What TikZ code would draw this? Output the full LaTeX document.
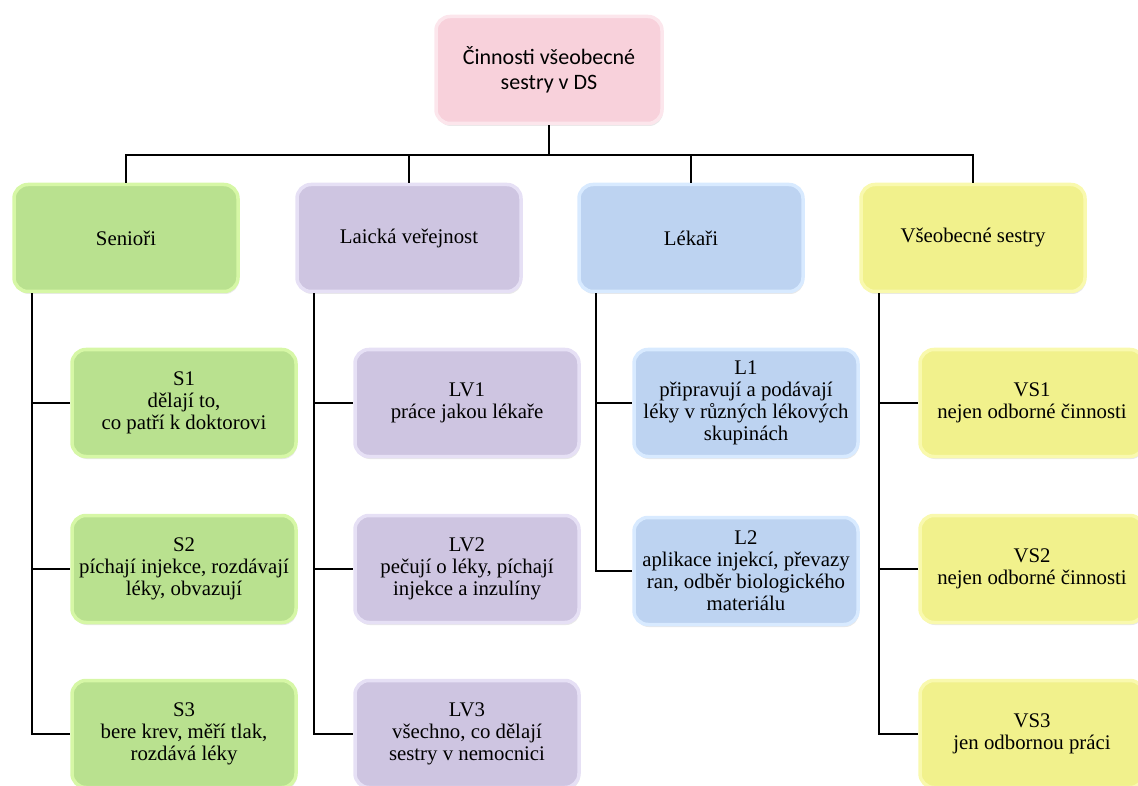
\documentclass[tikz,border=0pt]{standalone}
\usepackage{fontspec}
\setmainfont{Liberation Serif}
\newfontfamily\rootfont{Carlito}
\usetikzlibrary{shadows}
\definecolor{pinkF}{HTML}{F8D1DB}
\definecolor{pinkB}{HTML}{FCE6EC}
\definecolor{greenF}{HTML}{B9E18F}
\definecolor{greenB}{HTML}{D6F7A6}
\definecolor{purpF}{HTML}{CEC5E1}
\definecolor{purpB}{HTML}{E6E0F5}
\definecolor{blueF}{HTML}{BDD3F1}
\definecolor{blueB}{HTML}{D8EAFF}
\definecolor{yelF}{HTML}{F1F18C}
\definecolor{yelB}{HTML}{F9F9AE}
\tikzset{
  box/.style={rounded corners=14pt, minimum width=224pt, minimum height=107pt,
    inner sep=0pt, align=center, line width=3.5pt,
    font=\fontsize{20.8}{22}\selectfont,
    drop shadow={opacity=0.18, shadow xshift=1pt, shadow yshift=-2.5pt}},
  rootbox/.style={box, fill=pinkF, draw=pinkB, font=\rootfont\fontsize{22}{25}\selectfont},
  gbox/.style={box, fill=greenF, draw=greenB},
  pbox/.style={box, fill=purpF, draw=purpB},
  bbox/.style={box, fill=blueF, draw=blueB},
  ybox/.style={box, fill=yelF, draw=yelB},
  conn/.style={line width=2.2pt, black},
}
\begin{document}
\begin{tikzpicture}[x=1pt,y=-1pt]
\useasboundingbox (0,0) rectangle (1138,786);
% root
\node[rootbox, minimum width=226pt] (root) at (549,70) {Činnosti všeobecné\\sestry v DS};
% level 1
\node[gbox] (sen) at (126,238) {Senioři};
\node[pbox] (lv) at (409,238) {Laická veřejnost};
\node[bbox] (lek) at (691,238) {Lékaři};
\node[ybox] (vs) at (973,238) {Všeobecné sestry};
% level 2 - seniors
\node[gbox] (s1) at (184,403) {S1\\dělají to,\\co patří k doktorovi};
\node[gbox] (s2) at (184,569) {S2\\píchají injekce, rozdávají\\léky, obvazují};
\node[gbox] (s3) at (184,734) {S3\\bere krev, měří tlak,\\rozdává léky};
% laicka
\node[pbox] (lv1) at (467,403) {LV1\\práce jakou lékaře};
\node[pbox] (lv2) at (467,569) {LV2\\pečují o léky, píchají\\injekce a inzulíny};
\node[pbox] (lv3) at (467,734) {LV3\\všechno, co dělají\\sestry v nemocnici};
% lekari
\node[bbox] (l1) at (746,403) {L1\\připravují a podávají\\léky v různých lékových\\skupinách};
\node[bbox] (l2) at (746,571) {L2\\aplikace injekcí, převazy\\ran, odběr biologického\\materiálu};
% vs
\node[ybox] (vs1) at (1032,403) {VS1\\nejen odborné činnosti};
\node[ybox] (vs2) at (1032,569) {VS2\\nejen odborné činnosti};
\node[ybox] (vs3) at (1032,734) {VS3\\jen odbornou práci};
% connectors top
\foreach \c in {sen,lv,lek,vs}
  \draw[conn] (root.south) -- ++(0,30) -| (\c.north);
% branches
\draw[conn] ([xshift=20pt]sen.south west) |- (s3.west);
\draw[conn] ([xshift=20pt]sen.south west |- s1.west) -- (s1.west);
\draw[conn] ([xshift=20pt]sen.south west |- s2.west) -- (s2.west);
\draw[conn] ([xshift=19pt]lv.south west) |- (lv3.west);
\draw[conn] ([xshift=19pt]lv.south west |- lv1.west) -- (lv1.west);
\draw[conn] ([xshift=19pt]lv.south west |- lv2.west) -- (lv2.west);
\draw[conn] ([xshift=19pt]lek.south west) |- (l2.west);
\draw[conn] ([xshift=19pt]lek.south west |- l1.west) -- (l1.west);
\draw[conn] ([xshift=20pt]vs.south west) |- (vs3.west);
\draw[conn] ([xshift=20pt]vs.south west |- vs1.west) -- (vs1.west);
\draw[conn] ([xshift=20pt]vs.south west |- vs2.west) -- (vs2.west);
\end{tikzpicture}
\end{document}
